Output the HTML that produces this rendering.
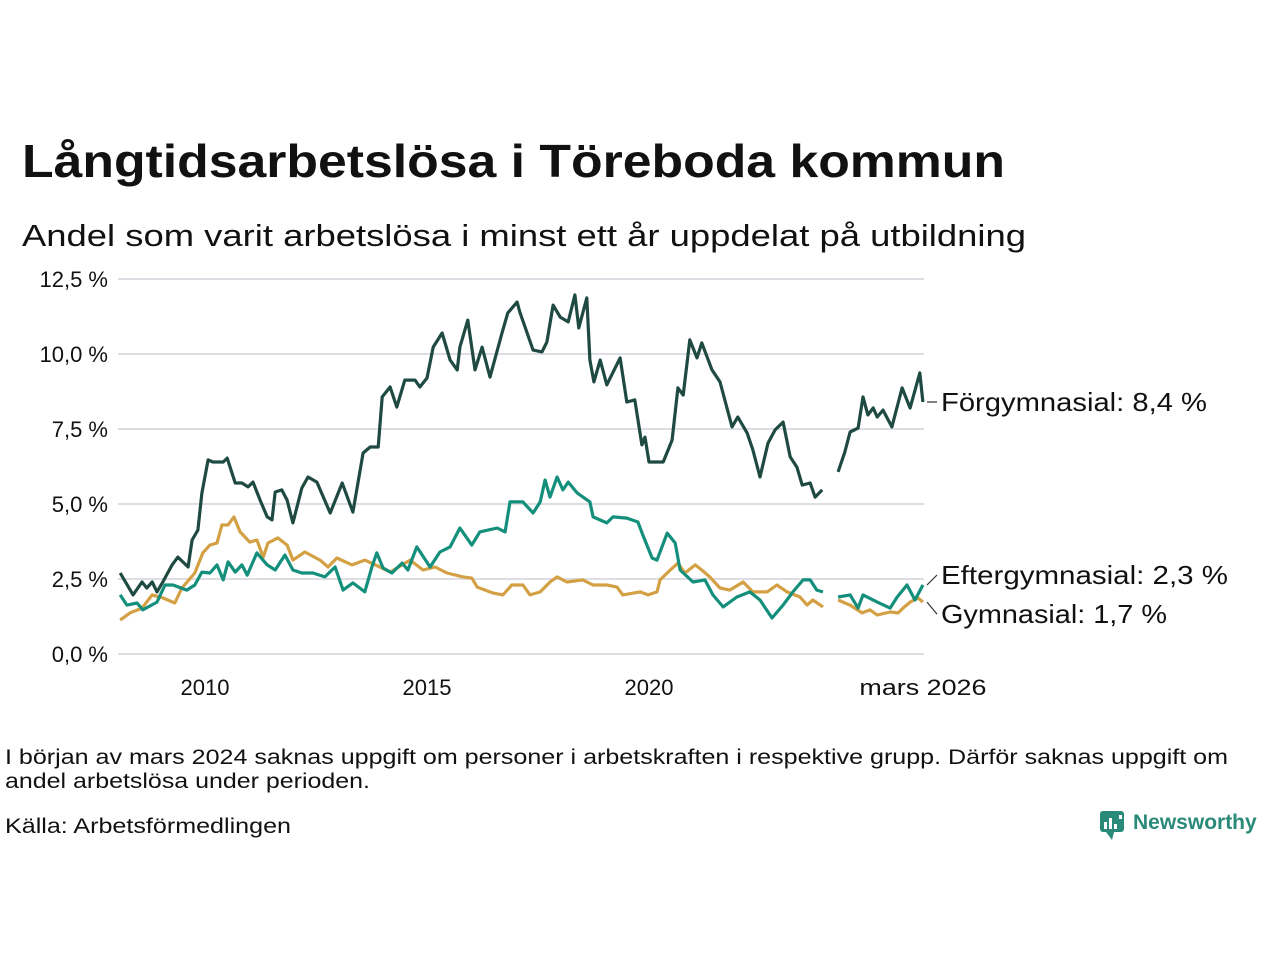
<!DOCTYPE html>
<html><head><meta charset="utf-8">
<style>
body{margin:0;background:#fff;width:1280px;height:960px;overflow:hidden;font-family:"Liberation Sans","DejaVu Sans",sans-serif;color:#111}
svg text{font-family:"Liberation Sans","DejaVu Sans",sans-serif}
</style></head>
<body>
<svg id="chart" width="1280" height="960" viewBox="0 0 1280 960">
<text x="22" y="177" font-size="46" font-weight="bold" fill="#111" textLength="983" lengthAdjust="spacingAndGlyphs">Långtidsarbetslösa i Töreboda kommun</text>
<text x="22" y="246" font-size="31" fill="#111" textLength="1004" lengthAdjust="spacingAndGlyphs">Andel som varit arbetslösa i minst ett år uppdelat på utbildning</text>
<g id="grid"></g>
<g id="series"></g>
<g id="labels"></g>
<text x="5" y="764" font-size="21" fill="#111" textLength="1223" lengthAdjust="spacingAndGlyphs">I början av mars 2024 saknas uppgift om personer i arbetskraften i respektive grupp. Därför saknas uppgift om</text>
<text x="5" y="788" font-size="21" fill="#111" textLength="365" lengthAdjust="spacingAndGlyphs">andel arbetslösa under perioden.</text>
<text x="5" y="833" font-size="21" fill="#111" textLength="286" lengthAdjust="spacingAndGlyphs">Källa: Arbetsförmedlingen</text>
<g>
<rect x="1100" y="811" width="24" height="21" rx="3" fill="#2a8a7a"/>
<polygon points="1106,832 1112,840 1114,832" fill="#2a8a7a"/>
<rect x="1104" y="822" width="3" height="7" fill="#fff"/><rect x="1109" y="818" width="3" height="11" fill="#fff"/><rect x="1114" y="824" width="3" height="5" fill="#fff"/><rect x="1119" y="815" width="3" height="4" fill="#fff"/>
<text x="1133" y="829" font-size="21" font-weight="bold" fill="#2a8a7a">Newsworthy</text>
</g>
</svg>
<script>
const yTicks=[0,2.5,5,7.5,10,12.5];
const yTickLabels=["0,0 %","2,5 %","5,0 %","7,5 %","10,0 %","12,5 %"];
const xTicks=[2010,2015,2020,2026.17];
const xTickLabels=["2010","2015","2020","mars 2026"];
const forgYears=[2008.09,2008.38,2008.58,2008.69,2008.81,2008.92,2009.05,2009.26,2009.39,2009.62,2009.71,2009.84,2009.93,2010.07,2010.18,2010.41,2010.50,2010.68,2010.83,2010.97,2011.08,2011.24,2011.40,2011.51,2011.58,2011.73,2011.85,2011.98,2012.18,2012.32,2012.52,2012.82,2013.09,2013.33,2013.56,2013.72,2013.90,2013.99,2014.17,2014.32,2014.50,2014.73,2014.84,2015.00,2015.14,2015.34,2015.52,2015.68,2015.74,2015.92,2016.08,2016.24,2016.42,2016.69,2016.82,2017.03,2017.09,2017.39,2017.59,2017.70,2017.84,2018.00,2018.18,2018.33,2018.42,2018.60,2018.67,2018.76,2018.90,2019.05,2019.35,2019.50,2019.68,2019.84,2019.91,2020.00,2020.32,2020.52,2020.65,2020.77,2020.92,2021.08,2021.19,2021.42,2021.60,2021.87,2022.00,2022.21,2022.34,2022.50,2022.68,2022.84,2023.02,2023.18,2023.33,2023.45,2023.63,2023.74,2023.90,2024.05,2024.26,2024.41,2024.53,2024.71,2024.82,2024.93,2025.05,2025.14,2025.27,2025.47,2025.70,2025.88,2026.10,2026.17];
const forgValues=[2.70,1.97,2.40,2.20,2.40,2.07,2.40,2.97,3.23,2.90,3.80,4.13,5.37,6.47,6.40,6.40,6.53,5.70,5.70,5.57,5.73,5.13,4.57,4.47,5.40,5.47,5.13,4.37,5.53,5.90,5.73,4.70,5.70,4.73,6.70,6.90,6.90,8.57,8.90,8.23,9.13,9.13,8.90,9.20,10.23,10.70,9.80,9.47,10.23,11.13,9.47,10.23,9.23,10.70,11.37,11.73,11.40,10.13,10.07,10.40,11.63,11.23,11.07,11.97,10.87,11.87,9.80,9.07,9.80,8.97,9.87,8.40,8.47,6.97,7.23,6.40,6.40,7.13,8.87,8.63,10.47,9.87,10.37,9.47,9.07,7.57,7.90,7.37,6.80,5.90,7.03,7.47,7.73,6.57,6.23,5.63,5.70,5.23,5.47,null,6.07,6.73,7.40,7.53,8.57,7.97,8.20,7.90,8.13,7.57,8.87,8.20,9.37,8.40];
const efterYears=[2008.09,2008.24,2008.47,2008.60,2008.92,2009.10,2009.28,2009.59,2009.77,2009.93,2010.11,2010.27,2010.41,2010.52,2010.68,2010.83,2010.95,2011.17,2011.40,2011.58,2011.80,2011.98,2012.18,2012.43,2012.70,2012.93,2013.11,2013.33,2013.60,2013.76,2013.87,2014.01,2014.21,2014.44,2014.57,2014.77,2015.07,2015.29,2015.52,2015.74,2016.01,2016.19,2016.58,2016.76,2016.87,2017.16,2017.39,2017.55,2017.66,2017.77,2017.93,2018.06,2018.18,2018.38,2018.67,2018.74,2019.05,2019.19,2019.50,2019.75,2019.86,2020.07,2020.18,2020.41,2020.59,2020.70,2020.99,2021.26,2021.44,2021.67,2021.98,2022.27,2022.50,2022.77,2023.02,2023.24,2023.47,2023.63,2023.78,2023.92,2024.05,2024.26,2024.53,2024.71,2024.82,2025.14,2025.43,2025.59,2025.81,2025.99,2026.17];
const efterValues=[1.97,1.63,1.70,1.47,1.73,2.30,2.30,2.13,2.30,2.73,2.70,2.97,2.47,3.07,2.73,2.97,2.63,3.37,2.97,2.80,3.30,2.80,2.70,2.70,2.57,2.90,2.13,2.37,2.07,2.90,3.37,2.87,2.70,3.03,2.80,3.57,2.90,3.40,3.57,4.20,3.63,4.07,4.20,4.07,5.07,5.07,4.70,5.07,5.80,5.23,5.90,5.47,5.73,5.37,5.07,4.57,4.37,4.57,4.53,4.40,3.97,3.20,3.13,4.03,3.70,2.80,2.40,2.47,1.97,1.57,1.90,2.07,1.80,1.20,1.63,2.07,2.47,2.47,2.13,2.07,null,1.90,1.97,1.53,1.97,1.73,1.53,1.90,2.30,1.80,2.30];
const gymYears=[2008.09,2008.31,2008.58,2008.81,2009.05,2009.32,2009.48,2009.77,2009.95,2010.11,2010.27,2010.38,2010.52,2010.65,2010.79,2011.01,2011.17,2011.31,2011.42,2011.64,2011.85,2011.98,2012.25,2012.59,2012.77,2012.97,2013.31,2013.60,2013.94,2014.17,2014.62,2014.91,2015.18,2015.45,2015.81,2016.01,2016.13,2016.49,2016.71,2016.91,2017.16,2017.32,2017.55,2017.77,2017.93,2018.15,2018.51,2018.74,2019.05,2019.28,2019.41,2019.80,2019.98,2020.18,2020.25,2020.43,2020.65,2020.81,2021.04,2021.19,2021.37,2021.60,2021.82,2022.12,2022.34,2022.66,2022.88,2023.11,2023.40,2023.56,2023.69,2023.92,2024.05,2024.26,2024.53,2024.80,2024.98,2025.14,2025.43,2025.61,2025.72,2025.88,2026.06,2026.17];
const gymValues=[1.13,1.37,1.53,1.97,1.87,1.70,2.20,2.70,3.37,3.63,3.70,4.30,4.30,4.57,4.07,3.73,3.80,3.23,3.70,3.87,3.63,3.13,3.40,3.13,2.90,3.20,2.97,3.13,2.90,2.73,3.13,2.80,2.90,2.70,2.57,2.53,2.23,2.03,1.97,2.30,2.30,1.97,2.07,2.40,2.57,2.40,2.47,2.30,2.30,2.23,1.97,2.07,1.97,2.07,2.47,2.73,3.03,2.70,2.97,2.80,2.57,2.20,2.13,2.40,2.07,2.07,2.30,2.07,1.90,1.63,1.80,1.57,null,1.80,1.63,1.37,1.47,1.30,1.40,1.37,1.53,1.73,1.87,1.73];

const NS="http://www.w3.org/2000/svg";
const X0=118,X1=924;
function xs(t){return 205+(t-2010)*44.4;}
function ys(v){return 654-v*30;}
function mk(tag,attrs,parent){const e=document.createElementNS(NS,tag);for(const k in attrs)e.setAttribute(k,attrs[k]);parent.appendChild(e);return e;}
const grid=document.getElementById('grid');
yTicks.forEach((v,i)=>{
  const l=mk('line',{x1:X0,x2:X1,y1:ys(v),y2:ys(v),stroke:'#dddde3','stroke-width':2},grid);
  
  
  const t=mk('text',{x:108,y:ys(v)+8,'text-anchor':'end','font-size':22,fill:'#111'},grid);
  t.textContent=yTickLabels[i];
  
  
});
xTicks.forEach((v,i)=>{
  const t=mk('text',{x:xs(v),y:695,'text-anchor':'middle','font-size':22,fill:'#111'},grid);
  t.textContent=xTickLabels[i];
  if(i===3){t.setAttribute('textLength','127');t.setAttribute('lengthAdjust','spacingAndGlyphs');}
  
  
});
function path(years,vals){let d='',pen=false;years.forEach((y,i)=>{const v=vals[i];if(v===null){pen=false;return;}d+=(pen?'L':'M')+xs(y).toFixed(1)+','+ys(v).toFixed(1);pen=true;});return d;}
const sg=document.getElementById('series');
const series=[[gymYears,gymValues,'#d4a044','line-gymnasial'],[efterYears,efterValues,'#138f7c','line-eftergymnasial'],[forgYears,forgValues,'#1f4a42','line-forgymnasial']];
series.forEach(s=>{
  const p=mk('path',{d:path(s[0],s[1]),fill:'none',stroke:s[2],'stroke-width':3.2,'stroke-linejoin':'round'},sg);
  
  
});
const lg=document.getElementById('labels');
const lastF=forgValues[forgValues.length-1],lastE=efterValues[efterValues.length-1],lastG=gymValues[gymValues.length-1];
const lab=[[lastF,ys(lastF),'Förgymnasial: 8,4 %','label-forgymnasial',266],[lastE,ys(lastE)-10,'Eftergymnasial: 2,3 %','label-eftergymnasial',287],[lastG,ys(lastG)+12,'Gymnasial: 1,7 %','label-gymnasial',226]];
lab.forEach(a=>{
  const y0=ys(a[0]);
  const ln=mk('line',{x1:927,y1:y0,x2:937,y2:a[1],stroke:'#333','stroke-width':1.2},lg);
  
  
  const t=mk('text',{x:941,y:a[1]+9,'font-size':26,fill:'#111',textLength:a[4],lengthAdjust:'spacingAndGlyphs'},lg);
  t.textContent=a[2];
  
  
});
</script>
</body></html>
